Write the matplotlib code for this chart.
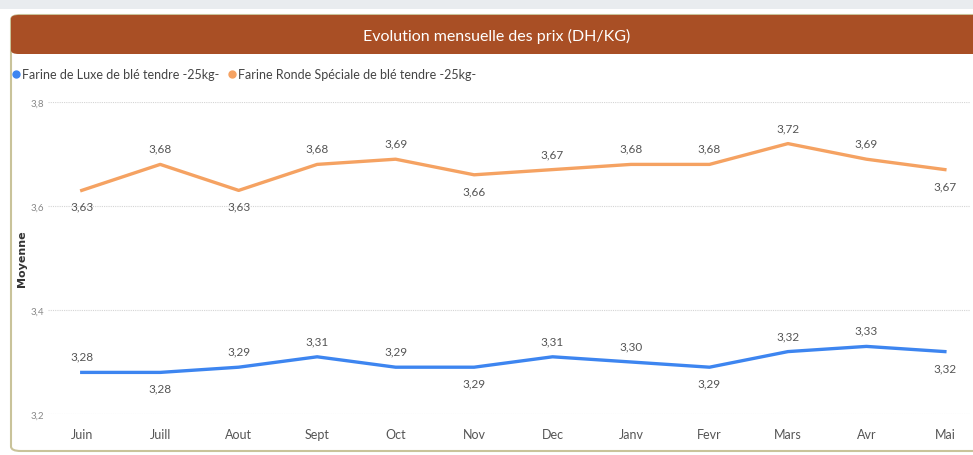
import matplotlib.pyplot as plt
from matplotlib.lines import Line2D
from matplotlib.patches import FancyBboxPatch, Rectangle

months = ['Juin', 'Juill', 'Aout', 'Sept', 'Oct', 'Nov', 'Dec', 'Janv', 'Fevr', 'Mars', 'Avr', 'Mai']
luxe = [3.28, 3.28, 3.29, 3.31, 3.29, 3.29, 3.31, 3.30, 3.29, 3.32, 3.33, 3.32]
ronde = [3.63, 3.68, 3.63, 3.68, 3.69, 3.66, 3.67, 3.68, 3.68, 3.72, 3.69, 3.67]
# label position: 1 = above, -1 = below
luxe_pos = [1, -1, 1, 1, 1, -1, 1, 1, -1, 1, 1, -1]
ronde_pos = [-1, 1, -1, 1, 1, -1, 1, 1, 1, 1, 1, -1]
yticks = [3.2, 3.4, 3.6, 3.8]

blue = '#3d85f0'
orange = '#f5a262'
plt.rcParams['font.family'] = ['Lato', 'DejaVu Sans']

W, H = 973, 456
fig = plt.figure(figsize=(W / 100, H / 100), dpi=100)

def fx(px):
    return px / W

def fy(py):
    return 1 - py / H

# card background + border
fig.patches.append(Rectangle((fx(0), fy(10)), fx(973), 10 / H, transform=fig.transFigure,
                             facecolor='#e9ecef', edgecolor='none', zorder=-3))
fig.patches.append(FancyBboxPatch((fx(11), fy(452)), fx(980), (452 - 16) / H,
                                  boxstyle='round,pad=0,rounding_size=0.01',
                                  transform=fig.transFigure, facecolor='white',
                                  edgecolor='#c9c39a', linewidth=1.5, zorder=-3))
fig.patches.append(FancyBboxPatch((fx(11), fy(55)), fx(980), 39 / H,
                                  boxstyle='round,pad=0,rounding_size=0.008',
                                  transform=fig.transFigure, facecolor='#a94f25',
                                  edgecolor='none', zorder=-2))
fig.text(fx(497), fy(36), 'Evolution mensuelle des prix (DH/KG)', color='white',
         fontsize=11.5, ha='center', va='center')

ax = fig.add_axes([fx(48), fy(415), fx(922), 312 / H])
ax.set_facecolor('none')
x = list(range(len(months)))
ax.plot(x, ronde, color=orange, lw=2.4, solid_joinstyle='round')
ax.plot(x, luxe, color=blue, lw=2.4, solid_joinstyle='round')

for vals, pos in [(ronde, ronde_pos), (luxe, luxe_pos)]:
    for xi, v, p in zip(x, vals, pos):
        ax.annotate(('%.2f' % v).replace('.', ','), (xi, v), xytext=(0, 16 * p),
                    textcoords='offset pixels', ha='center', va='center',
                    fontsize=8.5, color='#555555')

ax.set_xlim(-0.43, 11.32)
ax.set_ylim(3.2, 3.8)
ax.set_yticks(yticks)
ax.set_yticklabels([('%.1f' % t).replace('.', ',') for t in yticks], fontsize=7, color='#888888')
ax.set_xticks(x)
ax.set_xticklabels(months, fontsize=9, color='#555555')
ax.tick_params(length=0)
ax.tick_params(axis='x', pad=10)
ax.tick_params(axis='y', pad=3)
ax.grid(axis='y', color='#d4d4d4', linestyle=(0, (1, 1)), linewidth=0.8)
for s in ax.spines.values():
    s.set_visible(False)
ax.set_ylabel('Moyenne', fontsize=8, fontweight='bold', color='#333333', family='DejaVu Sans')
ax.yaxis.set_label_coords((27 - 48) / 922, 0.5)

handles = [Line2D([], [], marker='o', color=blue, linestyle='none', markersize=5),
           Line2D([], [], marker='o', color=orange, linestyle='none', markersize=5)]
fig.legend(handles, ['Farine de Luxe de blé tendre -25kg-', 'Farine Ronde Spéciale de blé tendre -25kg-'],
           loc='center left', bbox_to_anchor=(fx(10), fy(75)), ncol=2, frameon=False,
           fontsize=9, handletextpad=0.0, columnspacing=0.5, handlelength=1.0,
           borderaxespad=0, borderpad=0, labelcolor='#444444')

fig.savefig('out.png', dpi=100)
